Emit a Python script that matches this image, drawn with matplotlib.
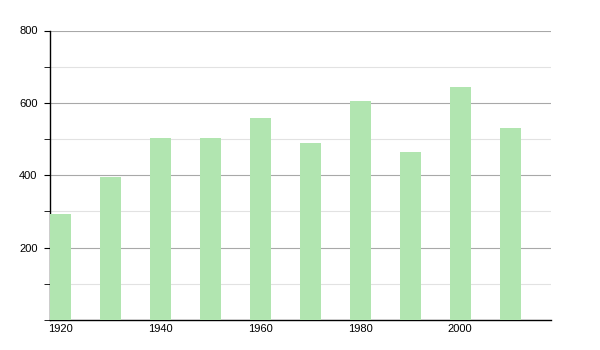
import matplotlib
matplotlib.use('Agg')
import matplotlib.pyplot as plt
from matplotlib.ticker import MultipleLocator

years = [1920, 1930, 1940, 1950, 1960, 1970, 1980, 1990, 2000, 2010]
population = [293, 396, 503, 503, 558, 489, 605, 464, 644, 530]
year_labels = [1920, 1940, 1960, 1980, 2000]

plt.rcParams['font.family'] = ['Liberation Sans', 'DejaVu Sans']

fig = plt.figure(figsize=(6, 3.5), dpi=100)
ax = fig.add_axes([50 / 600, 30 / 350, 501 / 600, 289.5 / 350])

ax.bar(years, population, width=4.2, color='#b1e5b0', zorder=3)

ax.set_xlim(1918, 2018.2)
ax.set_ylim(0, 800)
ax.set_xticks(year_labels)
ax.set_xticklabels([str(y) for y in year_labels])
ax.set_yticks([200, 400, 600, 800])
ax.yaxis.set_minor_locator(MultipleLocator(100))

ax.grid(axis='y', which='major', color='#a8a8a8', linewidth=0.8, zorder=0)
ax.grid(axis='y', which='minor', color='#e2e2e2', linewidth=0.8, zorder=0)

for side in ['top', 'right']:
    ax.spines[side].set_visible(False)
ax.spines['left'].set_linewidth(1)
ax.spines['bottom'].set_linewidth(1)

ax.tick_params(axis='x', length=0, labelsize=8, pad=3)
ax.tick_params(axis='y', which='major', length=4, labelsize=8, pad=5)
ax.tick_params(axis='y', which='minor', length=4)

plt.savefig('out.png', dpi=100)
plt.close()
